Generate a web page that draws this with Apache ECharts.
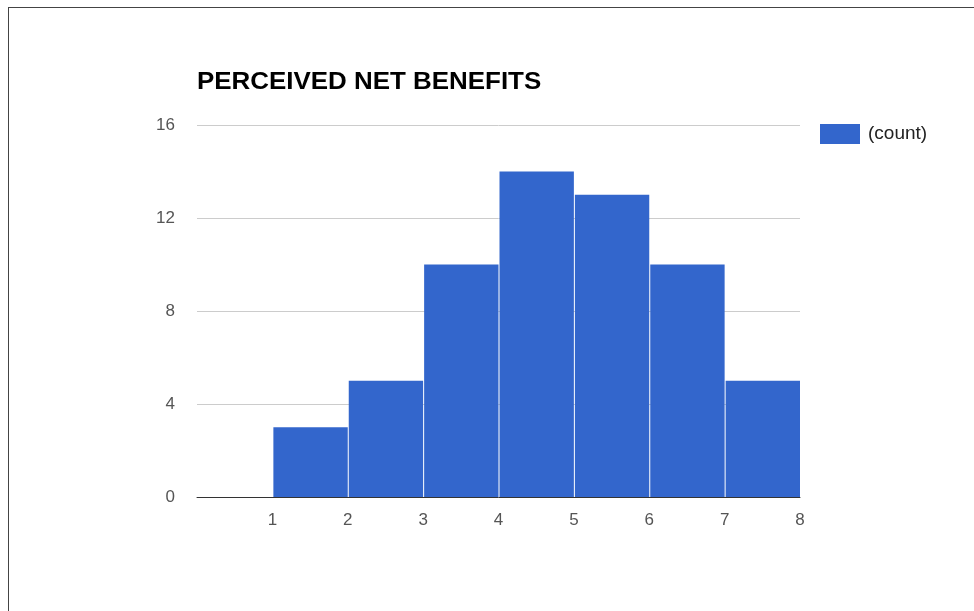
<!DOCTYPE html>
<html><head><meta charset="utf-8">
<script src="https://cdn.jsdelivr.net/npm/echarts@6/dist/echarts.min.js"></script>
<style>
html,body{margin:0;padding:0;background:#fff;}
#frame{position:absolute;left:8px;top:7px;width:1000px;height:700px;border-left:1px solid #444;border-top:1px solid #444;}
#c{position:absolute;left:0;top:0;width:974px;height:611px;}
</style></head>
<body><div id="frame"></div><div id="c"></div>
<script>
const binStarts = [1, 2, 3, 4, 5, 6, 7];
const binEnds   = [2, 3, 4, 5, 6, 7, 8];
const counts    = [3, 5, 10, 14, 13, 10, 5];
const xTicks = [1, 2, 3, 4, 5, 6, 7, 8];
const yTicks = [0, 4, 8, 12, 16];
const seriesName = '(count)';
const titleText = 'PERCEIVED NET BENEFITS';

const data = binStarts.map((s, i) => [s, binEnds[i], counts[i]]);
const chart = echarts.init(document.getElementById('c'), null, {renderer: 'canvas'});
chart.setOption({
  backgroundColor: 'transparent',
  animation: false,
  graphic: [{type: 'text', left: 197, top: 70, scaleX: 1.08,
    style: {text: titleText, font: 'bold 24px "Liberation Sans", Arial', fill: '#000'}}],
  legend: {left: 815, top: 119, itemWidth: 40, itemHeight: 20,
    textStyle: {fontFamily: 'Liberation Sans, Arial', fontSize: 19, color: '#222', padding: [2, 0, 0, 3]},
    data: [{name: seriesName, icon: 'rect', itemStyle: {color: '#3366cc'}}]},
  grid: {left: 197, right: 174, top: 125, bottom: 114},
  xAxis: {type: 'value', min: 0, max: 8, interval: 1,
    axisLine: {show: true, lineStyle: {color: '#333', width: 1}},
    axisTick: {show: false}, splitLine: {show: false},
    axisLabel: {margin: 15, fontFamily: 'Liberation Sans, Arial', fontSize: 17, color: '#555',
      formatter: v => xTicks.includes(v) ? String(v) : ''}},
  yAxis: {type: 'value', min: 0, max: 16, interval: 4,
    axisLine: {show: false}, axisTick: {show: false},
    splitLine: {lineStyle: {color: '#ccc', width: 1}},
    axisLabel: {margin: 22, fontFamily: 'Liberation Sans, Arial', fontSize: 17, color: '#555',
      formatter: v => yTicks.includes(v) ? String(v) : ''}},
  series: [{
    name: seriesName, type: 'custom', itemStyle: {color: '#3366cc'},
    renderItem: (params, api) => {
      const p0 = api.coord([api.value(0), api.value(2)]);
      const p1 = api.coord([api.value(1), 0]);
      return {type: 'rect',
        shape: {x: p0[0] + 1, y: p0[1], width: p1[0] - p0[0] - 1, height: p1[1] - p0[1]},
        style: {fill: '#3366cc'}};
    },
    encode: {x: [0, 1], y: 2},
    data: data, z: 1
  }]
});
</script></body></html>
